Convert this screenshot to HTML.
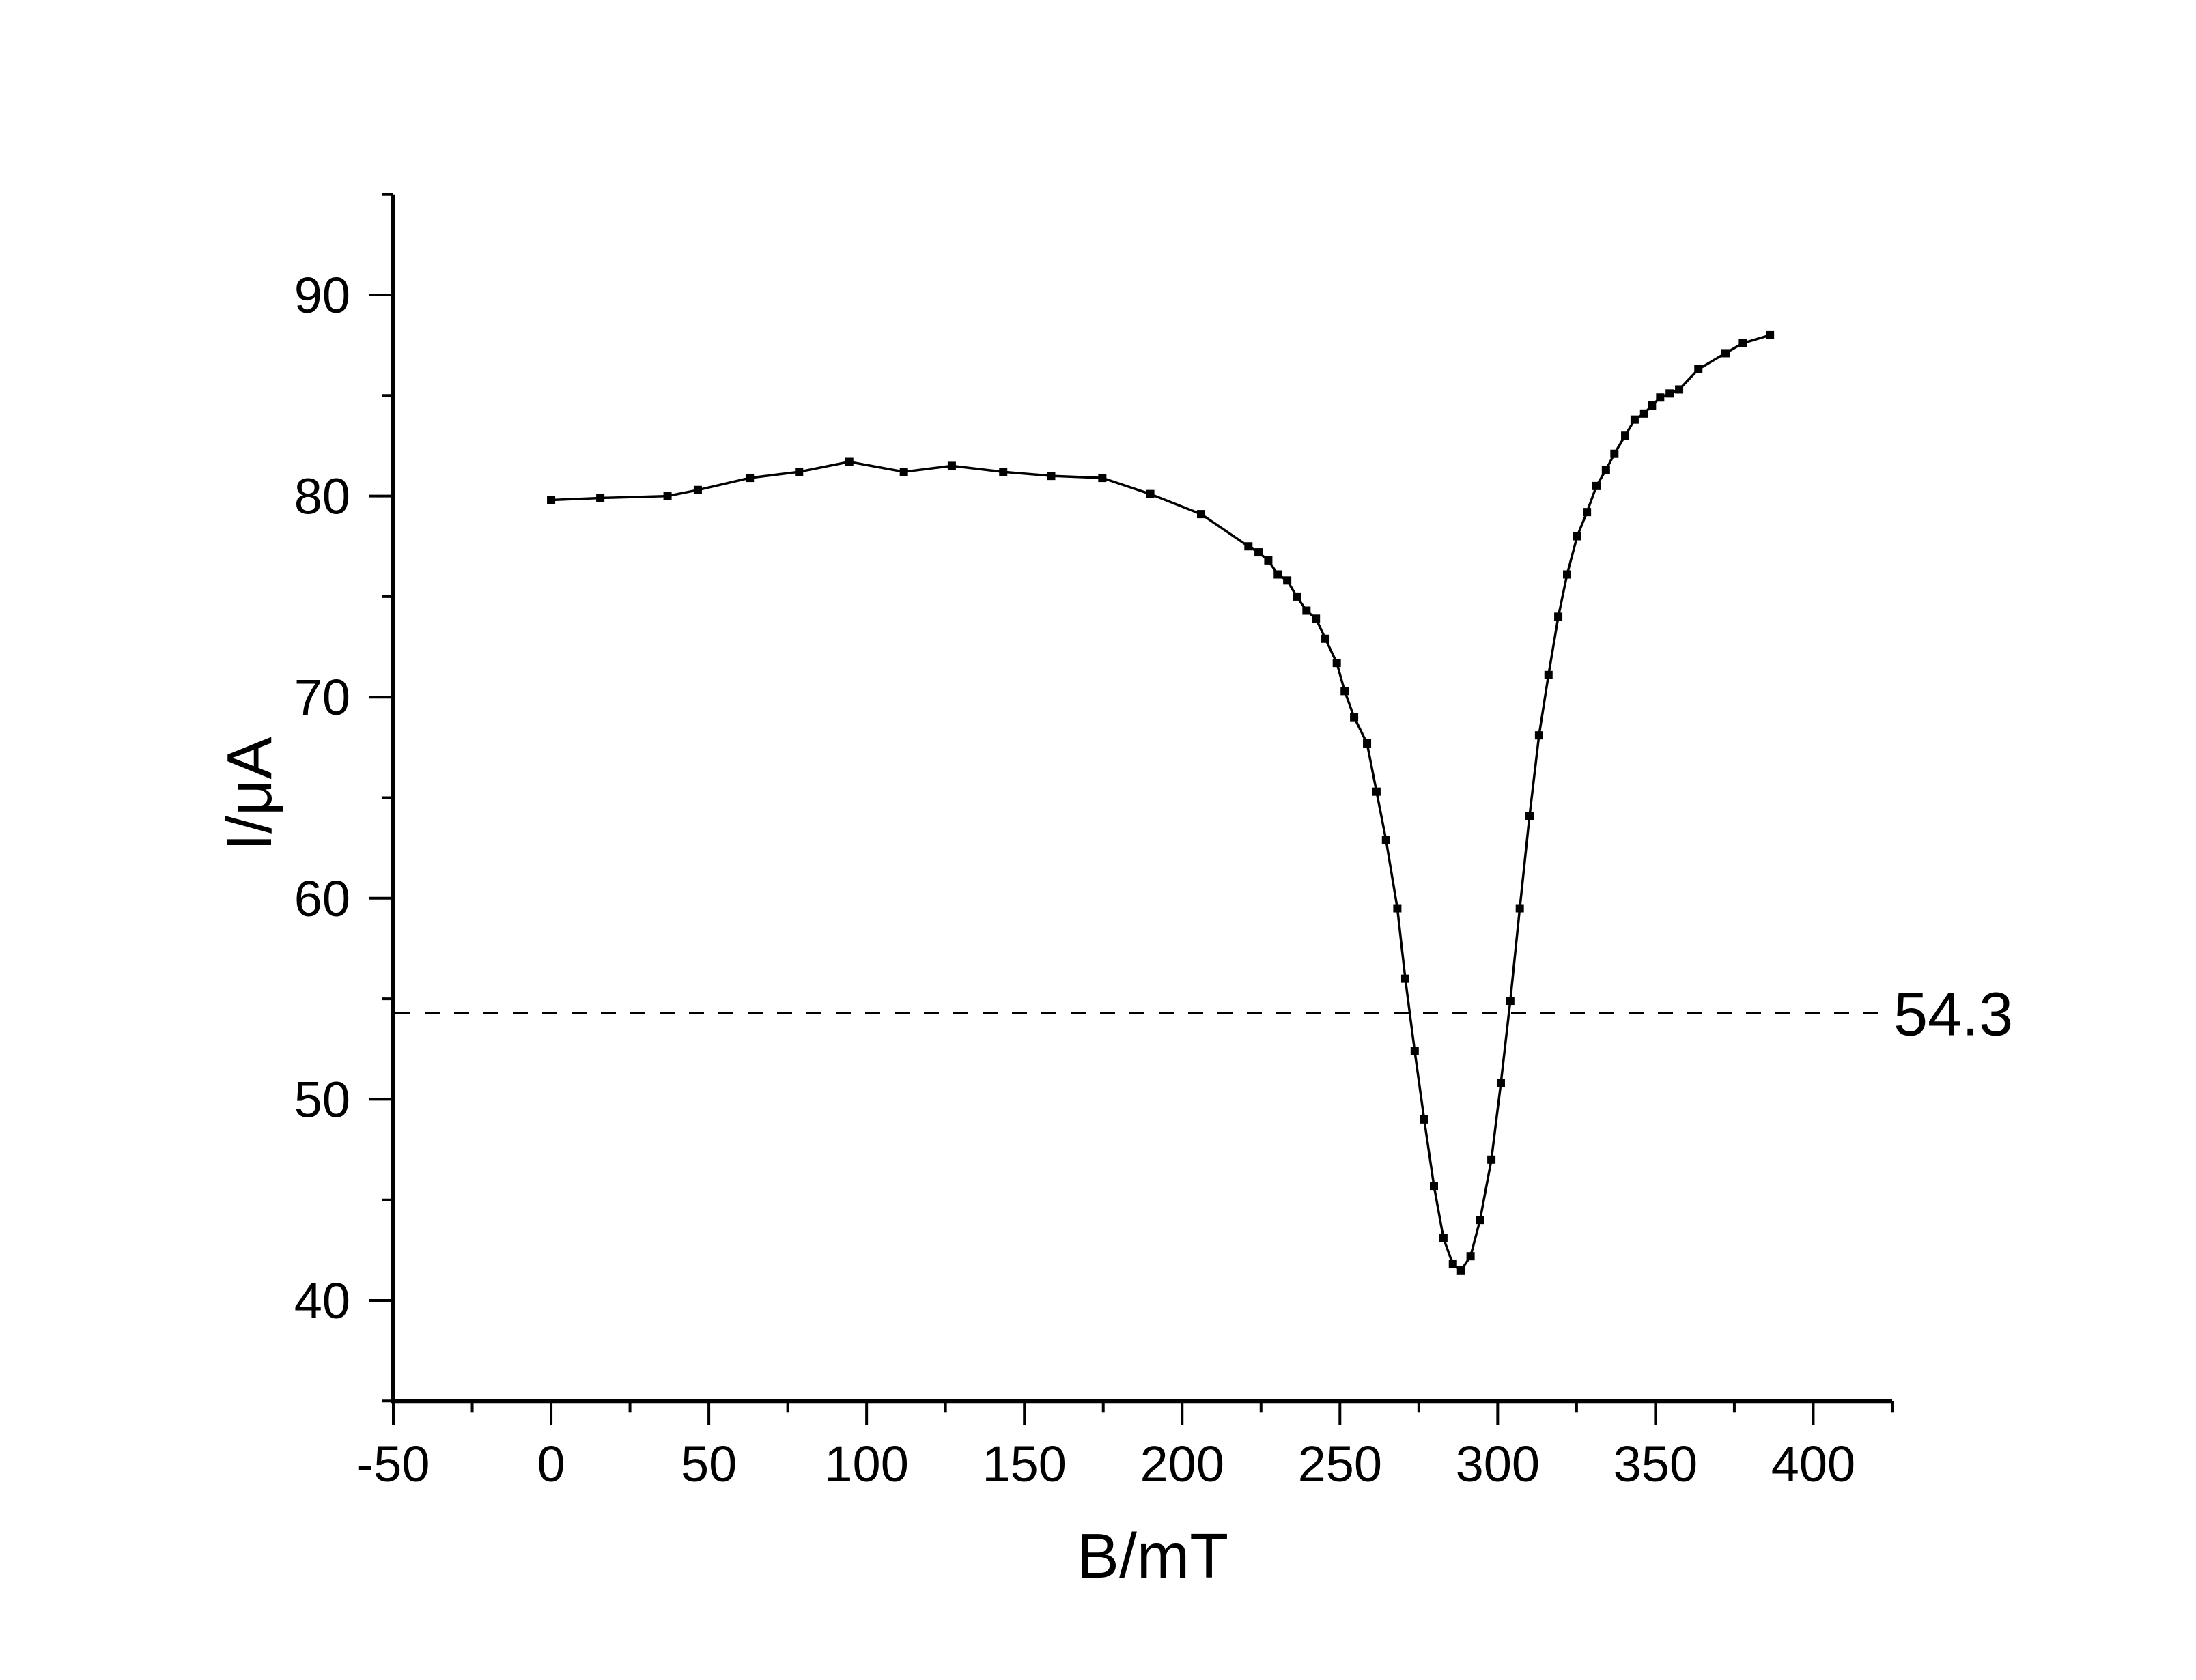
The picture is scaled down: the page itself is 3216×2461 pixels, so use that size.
<!DOCTYPE html>
<html><head><meta charset="utf-8"><style>
html,body{margin:0;padding:0;background:#fff;}
svg{display:block;font-family:"Liberation Sans",Arial,sans-serif;}
</style></head><body>
<svg id="chart" width="3216" height="2461" viewBox="0 0 3216 2461" xmlns="http://www.w3.org/2000/svg">
<rect width="3216" height="2461" fill="#fff"/>
<g id="axes"></g>
<g id="series"></g>
</svg>
<script>
const xVals = [0,15.6,36.9,46.5,63.0,78.6,94.5,111.8,127.0,143.3,158.5,174.7,189.9,206.0,221.0,224.2,227.3,230.3,233.3,236.3,239.4,242.4,245.4,249.0,251.5,254.5,258.6,261.6,264.6,268.2,270.7,273.7,276.7,279.8,282.8,285.8,288.4,291.4,294.4,298.0,301.0,304.0,307.0,310.1,313.1,316.1,319.2,322.0,325.2,328.3,331.3,334.3,337.0,340.4,343.4,346.4,348.9,351.5,354.5,357.5,363.6,372.2,377.7,386.3];
const yVals = [79.8,79.9,80.0,80.3,80.9,81.2,81.7,81.2,81.5,81.2,81.0,80.9,80.1,79.1,77.5,77.2,76.8,76.1,75.8,75.0,74.3,73.9,72.9,71.7,70.3,69.0,67.7,65.3,62.9,59.5,56.0,52.4,49.0,45.7,43.1,41.8,41.5,42.2,44.0,47.0,50.8,54.9,59.5,64.1,68.1,71.1,74.0,76.1,78.0,79.2,80.5,81.3,82.1,83.0,83.8,84.1,84.5,84.9,85.1,85.3,86.3,87.1,87.6,88.0];
const xTicks = [-50,0,50,100,150,200,250,300,350,400];
const yTicks = [40,50,60,70,80,90];
const refLevel = [54.3];

const NS="http://www.w3.org/2000/svg";
const X0=576, XPX=4.621, XMIN=-50, XMAX=425;
const Y0=1905, YPX=29.46, YMIN=35, YMAX=95;
function sx(v){return X0+(v-XMIN)*XPX;}
function sy(v){return Y0-(v-40)*YPX;}
function mk(tag,attrs,parent){const e=document.createElementNS(NS,tag);for(const k in attrs)e.setAttribute(k,attrs[k]);parent.appendChild(e);return e;}
const axes=document.getElementById('axes');
const series=document.getElementById('series');

let e=mk('line',{x1:X0,y1:sy(YMIN),x2:sx(XMAX),y2:sy(YMIN),stroke:'#000','stroke-width':6},axes);


e=mk('line',{x1:X0,y1:sy(YMAX),x2:X0,y2:sy(YMIN)+3,stroke:'#000','stroke-width':6},axes);



for(let v=XMIN; v<=XMAX; v+=25){
  const major = (v%50===0);
  e=mk('line',{x1:sx(v),y1:sy(YMIN),x2:sx(v),y2:sy(YMIN)+(major?35:17),stroke:'#000','stroke-width':4},axes);
  
  
}
xTicks.forEach(v=>{
  e=mk('text',{x:sx(v),y:2170,'font-size':74,'text-anchor':'middle',fill:'#000'},axes);
  e.textContent=String(v);
  
  
});
for(let v=YMIN; v<=YMAX; v+=5){
  const major=(v%10===0);
  e=mk('line',{x1:X0,y1:sy(v),x2:X0-(major?35:17),y2:sy(v),stroke:'#000','stroke-width':4},axes);
  
  
}
yTicks.forEach(v=>{
  e=mk('text',{x:513,y:sy(v)+26,'font-size':74,'text-anchor':'end',fill:'#000'},axes);
  e.textContent=String(v);
  
  
});
e=mk('text',{x:1688,y:2311,'font-size':93,'text-anchor':'middle',fill:'#000'},axes);
e.textContent='B/mT';


e=mk('text',{x:397,y:1163,'font-size':93,'text-anchor':'middle',fill:'#000',transform:'rotate(-90 397 1163)'},axes);
e.textContent='I/μA';



refLevel.forEach(r=>{
  e=mk('line',{x1:X0+3,y1:sy(r),x2:2768,y2:sy(r),stroke:'#000','stroke-width':3,'stroke-dasharray':'22 21'},series);
  
  
  e=mk('text',{x:2773,y:sy(r)+33,'font-size':90,fill:'#000'},series);
  e.textContent=String(r);
  
  
});

let d='';
xVals.forEach((x,i)=>{d+=(i?'L':'M')+sx(x).toFixed(1)+' '+sy(yVals[i]).toFixed(1);});
e=mk('path',{d:d,fill:'none',stroke:'#000','stroke-width':3.5,'stroke-linejoin':'round'},series);


xVals.forEach((x,i)=>{
  e=mk('rect',{x:sx(x)-6,y:sy(yVals[i])-6,width:12,height:12,fill:'#000'},series);
  
  
});
</script>
</body></html>
